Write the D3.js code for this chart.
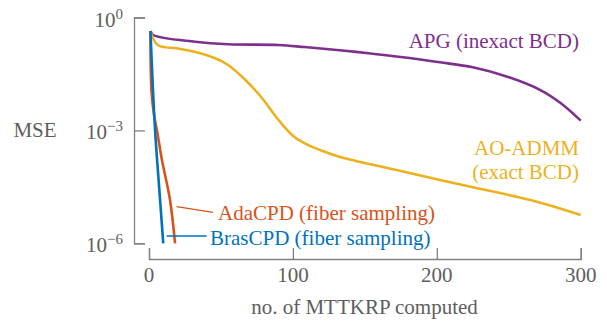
<!DOCTYPE html>
<html>
<head>
<meta charset="utf-8">
<script src="https://cdn.jsdelivr.net/npm/d3@7"></script>
<style>
    body { margin: 0; background: #fff; }
    svg { display: block; }
    text { font-family: "Liberation Serif", "DejaVu Serif", serif; }
</style>
</head>
<body>
<div id="chart"></div>
<script>
// MSE vs. number of MTTKRP computed
const apgX = [1, 3, 32, 55, 90, 108, 136, 151, 175, 202, 225, 249, 272, 286, 300];
const apgY = [0.438, 0.343, 0.227, 0.194, 0.186, 0.164, 0.131, 0.114, 0.0892, 0.0645, 0.0475, 0.0267, 0.0118, 0.00534, 0.00182];

const admmX = [1, 6, 20, 35, 46, 55, 67, 78.5, 90, 101, 113, 124, 136, 172, 218, 265, 300];
const admmY = [0.438, 0.186, 0.150, 0.114, 0.0824, 0.0547, 0.0218, 0.00726, 0.00189, 6.67e-4, 3.69e-4, 2.55e-4, 1.81e-4, 8.85e-5, 3.53e-5, 1.41e-5, 5.64e-6];

const adaX = [1, 1.7, 3.5, 5.6, 9.0, 14.6, 18.1];
const adaY = [0.438, 0.0118, 2.56e-3, 9.64e-4, 1.63e-4, 1.41e-5, 1e-6];

const brasX = [1, 4.2, 7.2, 9.9];
const brasY = [0.438, 1.03e-3, 2.6e-5, 1e-6];

const xTicks = [0, 100, 200, 300];
const yTicks = [1, 1e-3, 1e-6];
const yTickExp = ["0", "\u22123", "\u22126"];

const width = 607, height = 323;
const axisColor = "#808080";
const textColor = "#5e5e5e";

const svg = d3.select("#chart").append("svg")
    .attr("width", width)
    .attr("height", height);

const x = d3.scaleLinear().domain([0, 300]).range([149, 580.7]);
const y = d3.scaleLog().domain([1e-6, 1]).range([243.3, 17.5]);

// y axis, drawn apart from the plot area
const yAxis = d3.axisLeft(y)
    .tickValues(yTicks)
    .tickFormat("")
    .tickSize(-11)
    .tickSizeOuter(-11);

svg.append("g")
    .attr("transform", "translate(134,0)")
    .call(yAxis)
    .call(g => g.selectAll("path, line").attr("stroke", axisColor).attr("stroke-width", 1.3));

const xAxis = d3.axisBottom(x)
    .tickValues(xTicks)
    .tickFormat("")
    .tickSize(-11)
    .tickSizeOuter(-11);

svg.append("g")
    .attr("transform", "translate(0,259)")
    .call(xAxis)
    .call(g => g.selectAll("path, line").attr("stroke", axisColor).attr("stroke-width", 1.3));

// tick labels
yTicks.forEach((t, i) => {
    const label = svg.append("text")
        .attr("x", 123)
        .attr("y", y(t) + 9)
        .attr("text-anchor", "end")
        .style("font-size", "21px")
        .style("fill", textColor);
    label.append("tspan").text("10");
    label.append("tspan")
        .attr("dy", -8)
        .style("font-size", "15px")
        .text(yTickExp[i]);
});

svg.selectAll("text.xtick")
    .data(xTicks)
    .enter()
    .append("text")
    .attr("class", "xtick")
    .attr("x", d => x(d))
    .attr("y", 282)
    .attr("text-anchor", "middle")
    .style("font-size", "21px")
    .style("fill", textColor)
    .text(d => d);

svg.append("text")
    .attr("x", 35)
    .attr("y", 137)
    .attr("text-anchor", "middle")
    .style("font-size", "21px")
    .style("fill", textColor)
    .text("MSE");

svg.append("text")
    .attr("x", 364.5)
    .attr("y", 314)
    .attr("text-anchor", "middle")
    .style("font-size", "21px")
    .style("fill", textColor)
    .text("no. of MTTKRP computed");

// curves
const series = [
    { xs: apgX, ys: apgY, color: "#7E2F8E" },
    { xs: admmX, ys: admmY, color: "#EDB120" },
    { xs: adaX, ys: adaY, color: "#D95319" },
    { xs: brasX, ys: brasY, color: "#0072BD" }
];

const line = d3.line()
    .x(d => x(d[0]))
    .y(d => y(d[1]))
    .curve(d3.curveCatmullRom.alpha(0.5));

series.forEach(s => {
    svg.append("path")
        .datum(d3.zip(s.xs, s.ys))
        .attr("d", line)
        .attr("fill", "none")
        .attr("stroke", s.color)
        .attr("stroke-width", 2.6)
        .attr("stroke-linejoin", "round");
});

// in-plot labels
function label(txt, lx, ly, anchor, color) {
    svg.append("text")
        .attr("x", lx)
        .attr("y", ly)
        .attr("text-anchor", anchor)
        .style("font-size", "21px")
        .style("fill", color)
        .text(txt);
}

label("APG (inexact BCD)", 579, 48, "end", "#7E2F8E");
label("AO-ADMM", 579, 155, "end", "#EDB120");
label("(exact BCD)", 579, 179, "end", "#EDB120");
label("AdaCPD (fiber sampling)", 218, 220, "start", "#D95319");
label("BrasCPD (fiber sampling)", 210, 245, "start", "#0072BD");

// leader lines from labels to curves
svg.append("line")
    .attr("x1", 176.7).attr("y1", 206.7)
    .attr("x2", 213).attr("y2", 212.3)
    .attr("stroke", "#D95319")
    .attr("stroke-width", 1.3);

svg.append("line")
    .attr("x1", 166.7).attr("y1", 236)
    .attr("x2", 206.7).attr("y2", 236)
    .attr("stroke", "#0072BD")
    .attr("stroke-width", 1.3);
</script>
</body>
</html>
